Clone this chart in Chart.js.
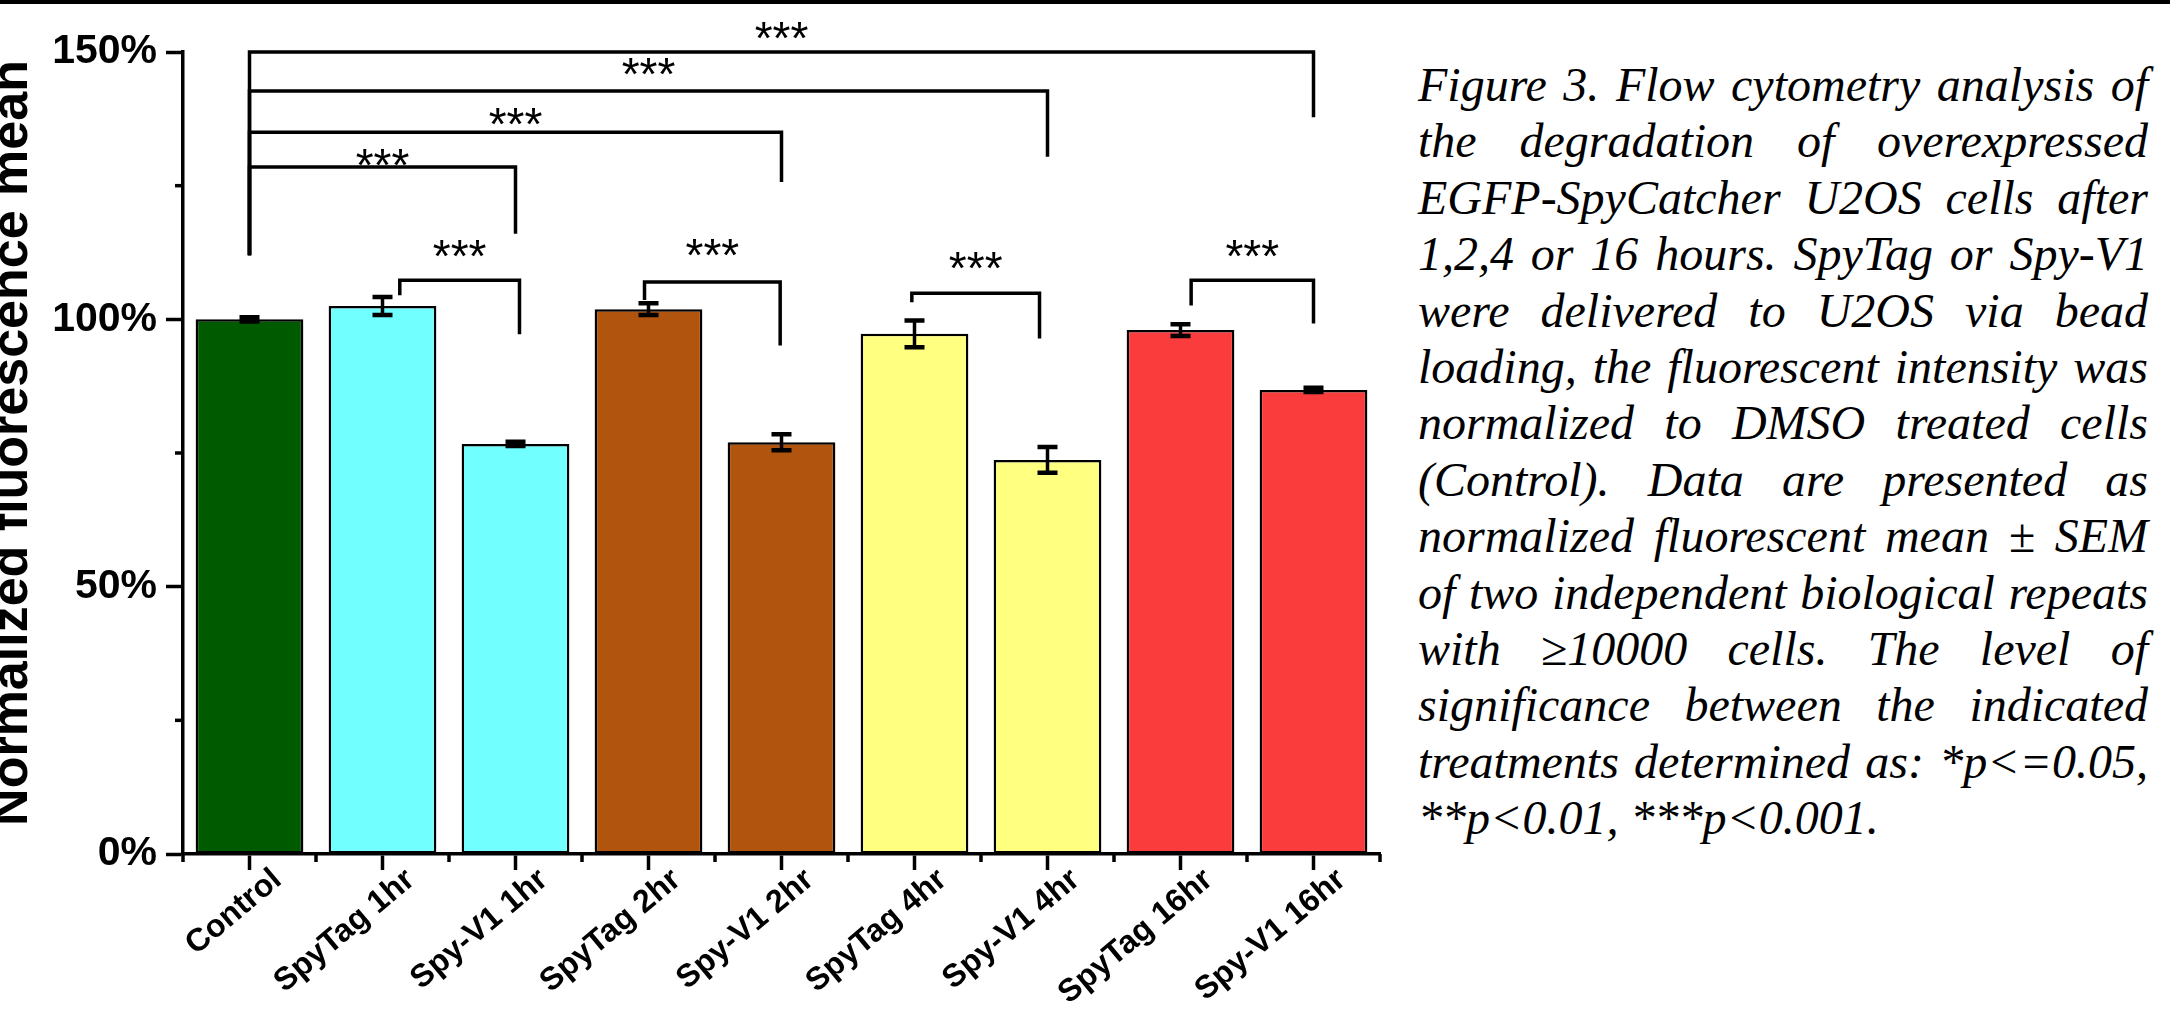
<!DOCTYPE html>
<html>
<head>
<meta charset="utf-8">
<script src="https://cdn.jsdelivr.net/npm/chart.js@4"></script>
<style>
html,body{margin:0;padding:0;background:#fff;width:2170px;height:1022px;overflow:hidden;}
#topbar{position:absolute;left:0;top:0;width:2170px;height:4px;background:#000;}
#wrap{position:absolute;left:0;top:0;width:1400px;height:1022px;}
#caption{position:absolute;left:1418px;top:57px;width:730px;font-family:"Liberation Serif","Times New Roman","DejaVu Serif";font-style:italic;font-size:48px;line-height:56.4px;color:#000;}
#caption div{text-align:justify;text-align-last:justify;white-space:nowrap;}
#caption div.last{text-align:left;text-align-last:left;}
</style>
</head>
<body>
<div id="wrap"><canvas id="c" width="1400" height="1022"></canvas></div>
<div id="topbar"></div>
<div id="caption"></div>
<script>
// ---- data ----
const categories = ['Control','SpyTag 1hr','Spy-V1 1hr','SpyTag 2hr','Spy-V1 2hr','SpyTag 4hr','Spy-V1 4hr','SpyTag 16hr','Spy-V1 16hr'];
const means = [100.0, 102.5, 76.7, 101.9, 77.0, 97.3, 73.7, 98.0, 86.8];
const sems = [0.4, 1.7, 0.4, 1.1, 1.5, 2.5, 2.4, 1.1, 0.4];
const barColors = ['#005a00','#72ffff','#72ffff','#b0540e','#b0540e','#ffff80','#ffff80','#fa3c3c','#fa3c3c'];
const yMajorTicks = [0, 50, 100, 150];
const yMinorTicks = [25, 75, 125];
const yTitle = 'Normalized fluorescence mean';
// significance brackets (x in category index units, y in %)
const bracketStart = [0, 0, 0, 0, 1.13, 2.97, 4.98, 7.08];
const bracketEnd = [2, 4, 6, 8, 2.03, 3.99, 5.94, 8.0];
const bracketTop = [128.5, 135.0, 142.7, 150.0, 107.3, 107.0, 104.9, 107.3];
const bracketStartDrop = [112, 112, 112, 112, 104.5, 103.6, 103.2, 102.6];
const bracketEndDrop = [116.0, 125.7, 130.4, 137.8, 97.2, 95.1, 96.4, 99.2];
const bracketLabels = ['***','***','***','***','***','***','***','***'];
const bracketLabelY = [130.8, 138.4, 147.8, 154.6, 113.8, 114.0, 111.6, 113.8];
const captionLines = [
 'Figure 3. Flow cytometry analysis of',
 'the degradation of overexpressed',
 'EGFP-SpyCatcher U2OS cells after',
 '1,2,4 or 16 hours. SpyTag or Spy-V1',
 'were delivered to U2OS via bead',
 'loading, the fluorescent intensity was',
 'normalized to DMSO treated cells',
 '(Control). Data are presented as',
 'normalized fluorescent mean \u00B1 SEM',
 'of two independent biological repeats',
 'with \u226510000 cells. The level of',
 'significance between the indicated',
 'treatments determined as: *p<=0.05,',
 '**p<0.01, ***p<0.001.'
];

// caption
const cap = document.getElementById('caption');
captionLines.forEach((t, i) => {
  const d = document.createElement('div');
  d.textContent = t;
  if (i === captionLines.length - 1) d.className = 'last';
  cap.appendChild(d);
});

Chart.defaults.font.family = "'Liberation Sans', Arial, sans-serif";
Chart.defaults.color = '#000';

const CHART_TOP = 52, CHART_BOTTOM = 854, CHART_LEFT = 183, CHART_RIGHT = 1380;

const extras = {
  id: 'extras',
  afterDraw(chart) {
    const ctx = chart.ctx;
    const xs = chart.scales.x, ys = chart.scales.y;
    ctx.save();
    ctx.strokeStyle = '#000';
    ctx.fillStyle = '#000';
    // minor ticks
    ctx.lineWidth = 3.5;
    yMinorTicks.forEach(v => {
      const y = ys.getPixelForValue(v);
      ctx.beginPath(); ctx.moveTo(xs.left - 8, y); ctx.lineTo(xs.left, y); ctx.stroke();
    });
    for (let i = 0; i <= categories.length; i++) {
      const x = xs.getPixelForValue(i - 0.5);
      ctx.beginPath(); ctx.moveTo(x, ys.bottom); ctx.lineTo(x, ys.bottom + 8); ctx.stroke();
    }
    // error bars
    means.forEach((m, i) => {
      const x = xs.getPixelForValue(i);
      const yt = ys.getPixelForValue(m + sems[i]);
      const yb = ys.getPixelForValue(m - sems[i]);
      ctx.lineWidth = 3.5;
      ctx.beginPath(); ctx.moveTo(x, yt); ctx.lineTo(x, yb); ctx.stroke();
      ctx.lineWidth = 4.5;
      ctx.beginPath(); ctx.moveTo(x - 10, yt); ctx.lineTo(x + 10, yt);
      ctx.moveTo(x - 10, yb); ctx.lineTo(x + 10, yb); ctx.stroke();
    });
    // brackets
    ctx.lineWidth = 3.5;
    ctx.lineJoin = 'miter';
    bracketStart.forEach((s, i) => {
      const x1 = xs.getPixelForValue(s), x2 = xs.getPixelForValue(bracketEnd[i]);
      const yt = ys.getPixelForValue(bracketTop[i]);
      ctx.beginPath();
      ctx.moveTo(x1, ys.getPixelForValue(bracketStartDrop[i]));
      ctx.lineTo(x1, yt);
      ctx.lineTo(x2, yt);
      ctx.lineTo(x2, ys.getPixelForValue(bracketEndDrop[i]));
      ctx.stroke();
      const fs = 46;
      ctx.font = fs + "px 'Liberation Sans', Arial, sans-serif";
      ctx.textAlign = 'center';
      ctx.textBaseline = 'alphabetic';
      ctx.fillText(bracketLabels[i], (x1 + x2) / 2, ys.getPixelForValue(bracketLabelY[i]) + 0.575 * fs);
    });
    // y axis title
    ctx.translate(27, 443);
    ctx.rotate(-Math.PI / 2);
    ctx.font = "bold 52px 'Liberation Sans', Arial, sans-serif";
    ctx.textAlign = 'center';
    ctx.textBaseline = 'alphabetic';
    ctx.fillText(yTitle, 0, 0);
    ctx.restore();
  }
};

new Chart(document.getElementById('c'), {
  type: 'bar',
  data: {
    labels: categories,
    datasets: [{
      data: means,
      backgroundColor: barColors,
      borderColor: '#000',
      borderWidth: 2.5,
      borderSkipped: false,
      barPercentage: 0.81,
      categoryPercentage: 1.0
    }]
  },
  options: {
    responsive: false,
    devicePixelRatio: 1,
    animation: false,
    layout: { padding: { top: CHART_TOP, right: 1400 - CHART_RIGHT, bottom: 0, left: 0 } },
    plugins: { legend: { display: false }, tooltip: { enabled: false } },
    scales: {
      x: {
        type: 'category',
        offset: true,
        grid: { display: true, offset: false, drawOnChartArea: false, drawTicks: true, tickLength: 16, tickWidth: 3.5, tickColor: '#000' },
        border: { display: true, color: '#000', width: 3.5 },
        ticks: {
          autoSkip: false, minRotation: 40, maxRotation: 40, padding: -9, labelOffset: 28,
          font: { size: 32, weight: 'bold' }, color: '#000'
        },
        afterFit(scale) { scale.height = 1022 - CHART_BOTTOM; }
      },
      y: {
        min: 0, max: 150,
        afterBuildTicks(scale) { scale.ticks = yMajorTicks.map(v => ({ value: v })); },
        grid: { display: true, drawOnChartArea: false, drawTicks: true, tickLength: 17, tickWidth: 3.5, tickColor: '#000' },
        border: { display: true, color: '#000', width: 3.5 },
        ticks: {
          padding: 9,
          font: { size: 41, weight: 'bold' }, color: '#000',
          callback: v => v + '%'
        },
        afterFit(scale) { scale.width = CHART_LEFT; }
      }
    }
  },
  plugins: [extras]
});
</script>
</body>
</html>
